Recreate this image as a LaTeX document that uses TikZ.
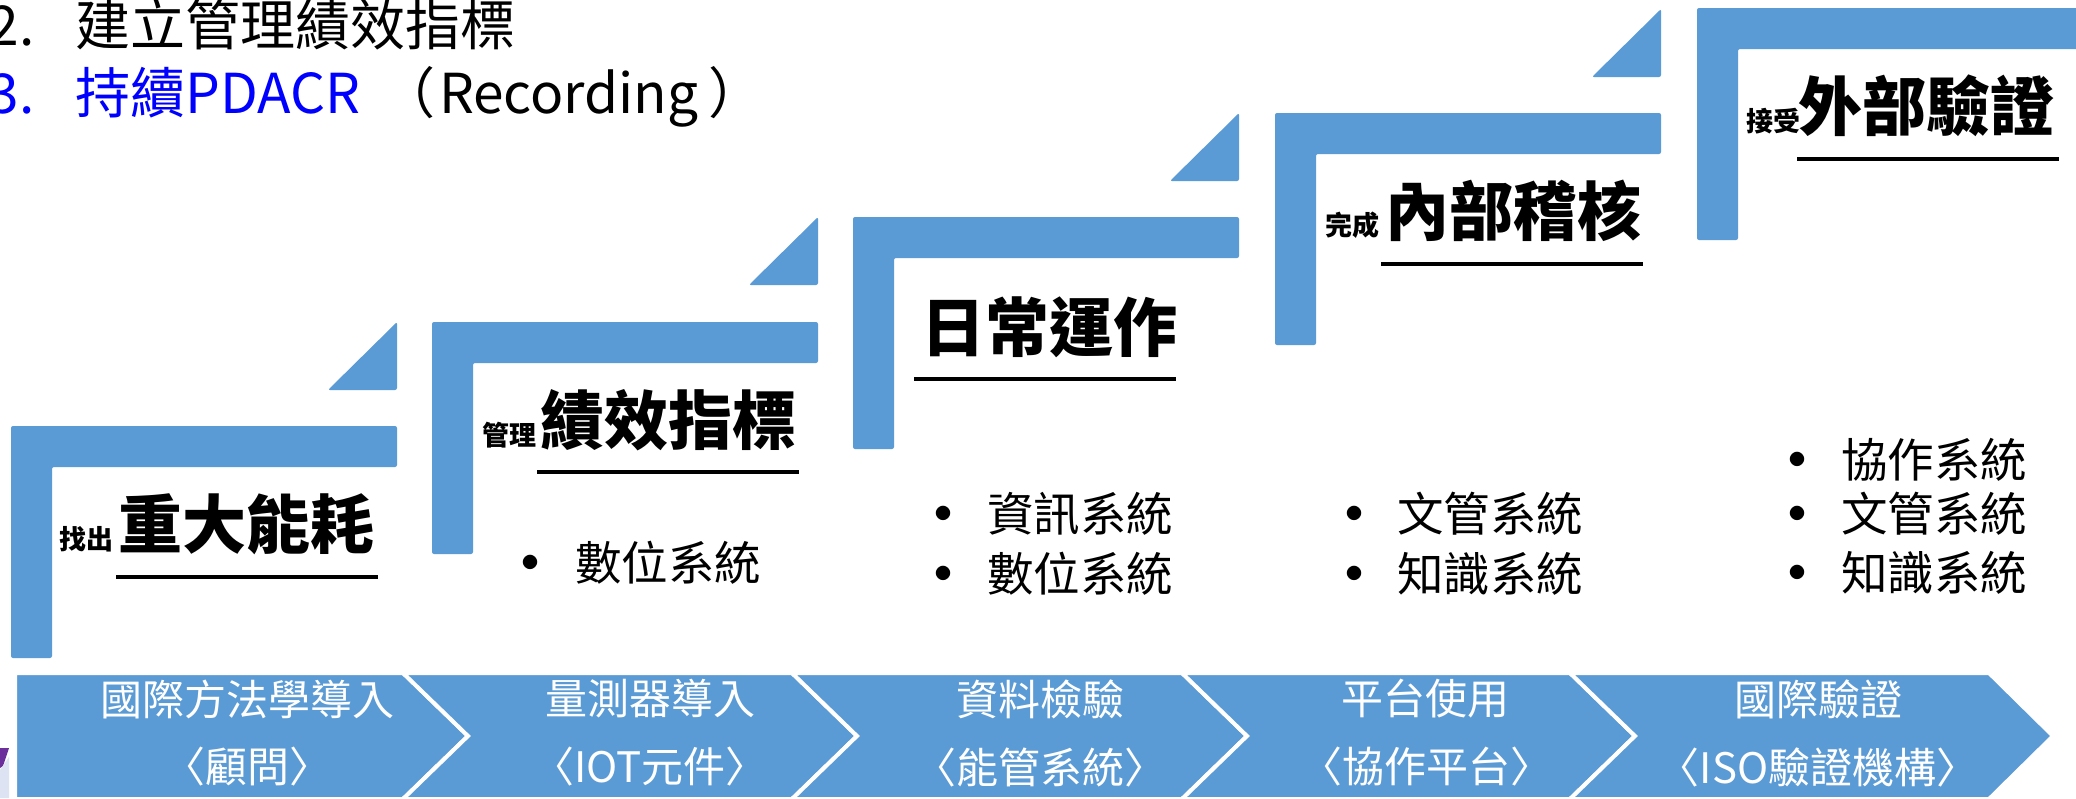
\documentclass[tikz,border=0pt]{standalone}
\usepackage{fontspec}
\setmainfont{Noto Sans CJK TC}
\definecolor{stepblue}{HTML}{5B9BD5}
\definecolor{titleblue}{HTML}{0000FF}
\definecolor{logopurple}{HTML}{6B2E9A}
\definecolor{logolight}{HTML}{DDE3F2}
\tikzset{
  stepbar/.style={fill=stepblue, draw=none, rounded corners=2pt},
  chev/.style={fill=stepblue, draw=white, line width=4pt, line join=miter},
  bigtitle/.style={anchor=west, inner sep=0pt, font=\fontsize{64}{70}\selectfont\bfseries},
  prefixtext/.style={anchor=west, inner sep=0pt, font=\fontsize{27}{30}\selectfont\bfseries},
  itemtext/.style={anchor=west, inner sep=0pt, font=\fontsize{46.5}{50}\selectfont},
  bulletdot/.style={inner sep=0pt, text height=6pt, text depth=6pt, font=\fontsize{16}{18}\selectfont},
  chevtext/.style={text=white, inner sep=0pt, font=\fontsize{42}{46}\selectfont},
  titlerule/.style={line width=3.5pt},
  headline/.style={inner sep=0pt, font=\fontsize{55}{60}\selectfont},
}
\newcommand{\bdot}{\raisebox{-0.38em}{●}}
\begin{document}
\begin{tikzpicture}[x=1pt,y=-1pt]
\useasboundingbox (0,0) rectangle (2076,798);
\clip (0,0) rectangle (2076,798);
\fill[white] (0,0) rectangle (2076,798);

% header text
\node[headline, anchor=base east] (n2) at (35,45) {2.};
\node[headline, anchor=base west] (h1) at (75,45) {建立管理績效指標};
\node[headline, anchor=base east, text=titleblue] (n3) at (35,113) {3.};
\node[headline, anchor=base west] (h2) at (75,113) {{\color{titleblue}持續PDACR}\hspace{20pt}（\hspace{4pt}Recording\hspace{10pt}）};

% steps (L shapes) and triangles
\foreach \L/\T in {11/426, 432/322, 853/217, 1275/113, 1697/8}{
  \path[stepbar] (\L,\T) -- (\L+386,\T) -- (\L+386,\T+41) -- (\L+41,\T+41)
     -- (\L+41,\T+232) -- (\L,\T+232) -- cycle;
}
\foreach \R/\T in {397/322, 818/217, 1239/113, 1661/9}{
  \path[stepbar] (\R,\T) -- (\R,\T+68) -- (\R-69,\T+68) -- cycle;
}

% step titles
\node[prefixtext] (p1) at (59,539) {找出};
\node[bigtitle] (t1) at (118,524) {重大能耗};
\draw[titlerule] (116,577) -- (378,577);

\node[prefixtext] (p2) at (482,435) {管理};
\node[bigtitle] (t2) at (540,420) {績效指標};
\draw[titlerule] (537,472) -- (799,472);

\node[bigtitle] (t3) at (921,327) {日常運作};
\draw[titlerule] (914,379) -- (1176,379);

\node[prefixtext] (p4) at (1325,225) {完成};
\node[bigtitle] (t4) at (1385,211) {內部稽核};
\draw[titlerule] (1381,264) -- (1643,264);

\node[prefixtext] (p5) at (1746,121) {接受};
\node[bigtitle] (t5) at (1798,106) {外部驗證};
\draw[titlerule] (1797,159) -- (2059,159);

% bullet lists
\node[bulletdot] (b21) at (530,562) {\bdot};
\node[itemtext] (i21) at (575,563) {數位系統};

\node[bulletdot] (b31) at (943,513) {\bdot};
\node[itemtext] (i31) at (987,514) {資訊系統};
\node[bulletdot] (b32) at (943,573) {\bdot};
\node[itemtext] (i32) at (987,574) {數位系統};

\node[bulletdot] (b41) at (1354,513) {\bdot};
\node[itemtext] (i41) at (1397,514) {文管系統};
\node[bulletdot] (b42) at (1354,573) {\bdot};
\node[itemtext] (i42) at (1397,574) {知識系統};

\node[bulletdot] (b51) at (1797,459) {\bdot};
\node[itemtext] (i51) at (1841,460) {協作系統};
\node[bulletdot] (b52) at (1797,513) {\bdot};
\node[itemtext] (i52) at (1841,514) {文管系統};
\node[bulletdot] (b53) at (1797,572) {\bdot};
\node[itemtext] (i53) at (1841,573) {知識系統};

% chevrons
\path[chev] (15,673) -- (403,673) -- (468,736) -- (403,799) -- (15,799) -- cycle;
\path[chev] (403,673) -- (792,673) -- (857,736) -- (792,799) -- (403,799) -- (468,736) -- cycle;
\path[chev] (792,673) -- (1182,673) -- (1247,736) -- (1182,799) -- (792,799) -- (857,736) -- cycle;
\path[chev] (1182,673) -- (1570,673) -- (1635,736) -- (1570,799) -- (1182,799) -- (1247,736) -- cycle;
\path[chev] (1570,673) -- (1989,673) -- (2053,736) -- (1989,799) -- (1570,799) -- (1635,736) -- cycle;

\node[chevtext] (c1a) at (247,699) {國際方法學導入};
\node[chevtext] (c1b) at (247,767) {〈顧問〉};
\node[chevtext] (c2a) at (650,699) {量測器導入};
\node[chevtext] (c2b) at (650,767) {〈IOT元件〉};
\node[chevtext] (c3a) at (1040,699) {資料檢驗};
\node[chevtext] (c3b) at (1040,767) {〈能管系統〉};
\node[chevtext] (c4a) at (1425,699) {平台使用};
\node[chevtext] (c4b) at (1426,767) {〈協作平台〉};
\node[chevtext] (c5a) at (1818,699) {國際驗證};
\node[chevtext] (c5b) at (1818,767) {〈ISO驗證機構〉};

% logo fragment bottom-left
\fill[logopurple] (0,748) -- (9,748) -- (3,766) -- (0,768) -- cycle;
\fill[logolight] (0,770) -- (9,757) -- (9,798) -- (0,798) -- cycle;
\end{tikzpicture}
\end{document}
